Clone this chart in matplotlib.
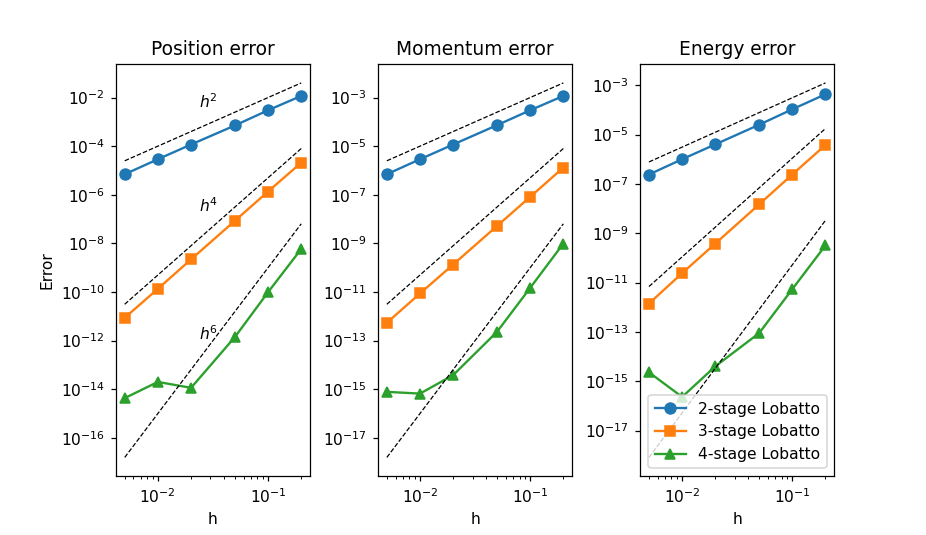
import numpy as np
import matplotlib
matplotlib.use("Agg")
import matplotlib.pyplot as plt

h = [0.005, 0.01, 0.02, 0.05, 0.1, 0.2]
titles = ["Position error", "Momentum error", "Energy error"]
labels = ["2-stage Lobatto", "3-stage Lobatto", "4-stage Lobatto"]
orders = [2, 4, 6]
markers = ["o", "s", "^"]

# errors [panel][method]
pos_err = [
    [7.0e-6, 2.9e-5, 1.17e-4, 7.1e-4, 3.0e-3, 1.17e-2],
    [8.7e-12, 1.35e-10, 2.2e-9, 8.5e-8, 1.36e-6, 2.1e-5],
    [4.3e-15, 2.0e-14, 1.14e-14, 1.4e-12, 9.8e-11, 5.9e-9],
]
mom_err = [
    [7.0e-7, 2.9e-6, 1.17e-5, 7.3e-5, 3.0e-4, 1.17e-3],
    [5.4e-13, 8.7e-12, 1.35e-10, 5.2e-9, 8.2e-8, 1.32e-6],
    [7.8e-16, 6.6e-16, 3.8e-15, 2.3e-13, 1.48e-11, 9.8e-10],
]
en_err = [
    [2.4e-7, 1.0e-6, 4.0e-6, 2.5e-5, 1.06e-4, 4.3e-4],
    [1.4e-12, 2.4e-11, 3.8e-10, 1.48e-8, 2.4e-7, 3.8e-6],
    [2.3e-15, 2.3e-16, 4.0e-15, 8.9e-14, 5.4e-12, 3.2e-10],
]
# reference slope constants C * h^p per panel
ref_const = [
    [1.0, 0.05, 1e-3],
    [0.1, 0.005, 1e-4],
    [0.031, 0.011, 5.2e-5],
]
# order labels on first panel
ref_label_x = [0.029, 0.029, 0.029]
ref_label_y = [6.6e-3, 3.5e-7, 1.95e-12]
ref_labels = [r"$h^2$", r"$h^4$", r"$h^6$"]

data = [pos_err, mom_err, en_err]

DPI = 112
fig, axes = plt.subplots(1, 3, figsize=(927 / DPI, 535 / DPI), dpi=DPI)
fig.subplots_adjust(wspace=0.35)
harr = np.array(h)
for i, ax in enumerate(axes):
    for j in range(3):
        ax.loglog(h, data[i][j], marker=markers[j], markersize=7, label=labels[j])
    for j in range(3):
        ax.loglog(h, ref_const[i][j] * harr ** orders[j], "k--", linewidth=0.8)
    ax.set_title(titles[i])
    ax.set_xlabel("h")
    if i == 0:
        ax.set_ylabel("Error")
        for k in range(3):
            ax.text(ref_label_x[k], ref_label_y[k], ref_labels[k], ha="center",
                    va="center")
axes[2].legend(loc="lower right")
fig.savefig("out.png", dpi=DPI)
